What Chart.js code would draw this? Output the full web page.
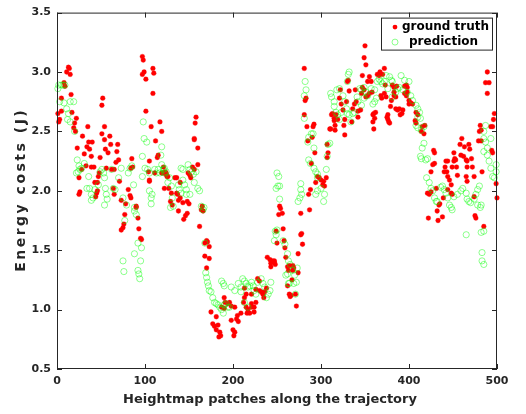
<!DOCTYPE html>
<html><head><meta charset="utf-8">
<script src="https://cdn.jsdelivr.net/npm/chart.js@4.4.0/dist/chart.umd.min.js"></script>
<style>html,body{margin:0;padding:0;background:#fff}</style>
</head><body>
<canvas id="c" width="526" height="414" style="width:526px;height:414px;display:block"></canvas>
<script>
// ---- data ----
const truthX = [1,2,3,5,5,8,9,11,13,14,15,16,17,19,20,21,22,23,25,25,26,28,29,31,33,34,35,36,37,39,39,40,42,43,44,45,46,46,47,48,49,51,51,52,54,54,55,56,58,60,61,62,64,65,65,67,68,69,70,71,73,73,75,76,77,78,81,83,84,84,85,86,90,90,92,93,95,96,97,97,98,99,101,101,104,105,105,105,107,109,109,110,111,112,114,115,117,119,119,121,121,122,123,124,126,
124,125,127,129,130,131,134,136,136,137,138,138,140,140,143,144,146,148,148,149,150,151,152,154,156,156,156,157,158,160,160,162,164,165,166,168,168,170,170,171,173,173,175,177,179,181,181,183,184,185,186,187,190,190,191,194,196,198,198,200,201,202,202,204,205,206,209,212,213,213,215,215,216,217,219,221,221,221,224,224,226,226,228,230,230,232,234,235,236,238,239,242,243,243,245,247,
247,248,249,250,252,253,254,256,257,258,259,260,262,262,263,264,264,265,266,267,268,268,269,271,272,274,274,277,277,278,279,281,281,282,283,284,285,286,287,288,289,290,291,292,293,294,296,298,300,302,303,304,306,307,307,308,310,311,312,313,315,315,316,316,317,319,321,322,323,325,326,327,327,329,330,331,332,335,336,338,339,340,342,342,345,346,347,347,349,349,350,351,351,353,353,355,355,357,358,359,359,360,360,361,362,364,366,367,368,369,370,372,372,374,375,377,
373,376,376,378,379,380,381,383,383,383,385,385,386,387,389,390,392,393,395,395,397,397,398,398,400,400,402,404,407,408,408,410,414,415,417,418,421,422,423,425,425,427,428,429,429,431,432,433,434,435,438,439,440,441,442,443,444,444,444,446,448,448,449,449,451,451,452,453,454,455,458,459,460,462,463,465,465,466,466,466,468,469,471,472,474,474,475,476,479,480,481,482,482,483,485,487,489,489,491,493,494,495,495,496,497,499,500];
const truthY = [2.65,2.58,2.6,2.67,2.78,2.91,2.88,3.0,3.04,3.03,2.98,2.81,2.66,2.53,2.57,2.5,2.61,2.36,2.11,1.97,1.99,2.18,2.46,2.31,2.21,2.37,2.54,2.41,2.35,2.29,2.2,2.41,2.2,2.07,1.95,1.98,2.07,2.0,2.12,2.15,2.28,2.48,2.72,2.78,2.54,2.43,2.35,2.19,2.32,2.46,2.39,2.18,2.02,2.18,1.97,2.24,2.33,2.39,2.26,2.08,1.92,1.67,1.69,1.72,1.8,1.89,2.01,1.96,2.19,1.94,2.27,2.2,1.87,1.86,1.77,1.68,1.6,1.59,3.13,2.98,3.1,3.0,2.94,2.67,2.16,2.25,2.09,2.08,2.54,2.82,3.03,2.99,2.15,2.42,2.28,2.3,2.58,2.5,2.15,2.15,2.2,2.02,2.16,2.14,2.12,
2.15,2.12,2.02,1.91,1.98,1.88,2.11,2.11,1.98,1.97,1.92,1.83,1.94,2.07,1.9,1.76,1.79,1.81,1.91,2.15,1.89,2.13,2.11,2.2,2.18,2.44,2.43,2.57,2.62,2.36,2.22,1.7,1.84,1.87,1.83,1.56,1.45,1.58,1.35,1.57,1.53,1.43,0.98,0.88,0.86,0.94,0.83,0.87,0.77,0.81,0.78,1.02,1.1,1.01,1.06,1.05,1.06,1.03,0.91,0.83,0.78,1.02,0.81,0.92,0.95,0.9,0.97,1.06,1.1,1.18,1.02,1.13,0.97,1.0,0.97,1.13,1.05,1.02,1.02,0.98,1.06,1.17,1.26,1.16,1.24,1.15,1.13,1.1,1.15,1.18,1.44,1.42,1.39,1.36,1.41,1.4,
1.41,1.38,1.66,1.56,1.8,1.87,1.85,1.81,1.68,1.58,1.52,1.44,1.36,1.2,1.33,1.37,1.13,1.11,1.12,1.25,1.37,1.33,1.35,1.13,1.03,1.31,1.47,1.63,1.81,1.64,1.55,2.64,3.03,2.76,2.78,2.54,2.42,1.97,1.84,2.01,2.23,2.45,2.54,2.56,2.32,2.07,2.12,2.11,2.09,2.05,2.08,2.04,2.11,2.39,2.28,2.32,2.52,2.52,2.64,2.65,2.59,2.61,2.55,2.51,2.64,2.6,2.78,2.85,2.73,2.68,2.55,2.6,2.47,2.75,2.92,2.93,2.84,2.58,2.69,2.73,2.85,2.75,2.62,2.67,2.68,2.82,2.87,2.97,2.85,3.12,3.22,3.06,2.79,2.8,2.92,2.82,2.96,2.92,2.83,2.64,2.58,2.65,2.52,2.61,2.66,2.98,2.97,3.0,2.8,2.78,2.98,3.03,2.82,2.79,2.62,2.58,
2.89,2.64,2.6,2.57,2.71,2.76,2.89,2.87,2.83,2.8,2.79,2.69,2.88,2.68,2.69,2.64,2.65,2.68,2.88,2.82,2.89,2.8,2.83,2.87,2.76,2.73,2.74,2.73,2.59,2.66,2.57,2.64,2.5,2.54,2.48,2.55,1.98,1.77,1.97,2.16,1.99,2.22,2.34,2.23,2.32,2.02,1.83,1.75,1.88,1.89,1.78,1.94,2.16,2.2,2.25,2.16,2.25,2.12,2.01,2.09,2.05,1.98,1.97,2.2,2.32,2.25,2.27,2.26,2.2,2.13,2.39,2.3,2.44,2.29,2.37,2.26,2.12,2.2,2.25,2.08,2.39,2.35,2.27,2.2,2.12,1.95,1.79,1.77,2.42,2.5,2.55,2.42,2.51,2.16,1.7,2.91,3.0,2.82,2.91,2.54,2.34,2.54,2.32,2.6,2.65,2.06,1.94];

const predX = [1,2,3,5,7,8,9,11,12,13,15,15,19,20,22,23,24,25,26,28,31,34,36,37,39,39,41,43,47,49,51,53,54,54,55,56,57,62,64,66,70,73,75,75,76,77,79,81,83,85,87,88,88,88,90,92,92,93,94,95,96,97,97,98,99,100,102,103,105,105,107,107,108,111,113,115,117,118,119,119,121,122,
122,124,126,128,129,130,131,132,138,139,141,141,143,143,145,147,147,149,151,151,153,155,156,158,160,162,164,166,167,168,169,170,171,172,173,175,177,179,181,183,185,187,187,189,189,190,190,192,194,196,198,202,206,209,209,211,213,213,215,217,217,219,221,223,224,226,228,232,234,236,238,240,242,243,
247,248,249,249,250,250,251,252,253,253,257,259,260,262,262,263,263,264,265,268,269,270,271,272,273,274,276,277,277,278,281,281,282,283,285,286,286,288,289,291,292,292,294,294,296,296,296,300,303,304,306,307,308,310,311,312,315,315,317,318,319,321,321,323,325,327,329,330,330,331,332,332,334,336,338,341,342,344,346,346,349,349,351,353,357,359,361,361,363,364,366,368,370,
372,374,376,378,380,381,381,385,387,389,391,393,395,398,400,402,404,408,408,410,410,410,412,413,413,414,414,415,417,417,419,420,421,423,425,427,429,431,432,436,438,440,442,444,446,448,449,451,455,459,461,465,465,466,468,470,474,476,478,478,480,481,482,482,483,483,485,485,485,485,485,487,487,489,489,491,493,493,495,497,499,499];
const predY = [2.86,2.89,2.75,2.89,2.89,2.74,2.89,2.69,2.6,2.65,2.75,2.58,2.75,2.5,2.15,2.26,2.16,2.21,2.18,2.19,2.23,2.02,2.12,2.02,1.92,1.97,1.94,2.01,2.05,2.16,2.18,2.15,2.11,1.88,2.02,1.97,1.93,2.18,2.02,2.01,2.11,2.19,1.94,1.41,1.32,1.75,1.88,2.15,2.19,2.21,2.05,1.86,1.83,1.47,1.8,1.56,1.33,1.3,1.26,1.41,1.52,2.29,2.12,2.58,2.44,2.19,2.41,2.18,2.15,2.0,1.94,1.89,1.97,2.18,2.15,2.18,2.15,2.3,2.22,2.37,2.18,2.15,
2.19,2.16,2.07,2.11,1.86,2.04,1.94,1.87,2.05,2.01,1.98,2.19,2.18,2.09,2.05,2.01,1.97,2.22,2.18,1.97,2.16,2.14,2.07,2.16,2.02,2.0,1.87,1.84,1.86,1.56,1.31,1.27,1.23,1.2,1.16,1.15,1.1,1.06,1.05,1.04,1.02,1.0,1.24,0.97,1.22,1.04,1.2,1.05,1.02,1.02,1.19,1.16,1.22,1.19,1.15,1.26,1.24,1.06,1.22,1.19,1.02,1.2,1.23,1.2,1.16,1.13,1.23,1.26,1.22,1.19,1.1,1.13,1.16,1.23,
1.58,1.66,1.63,2.02,2.15,1.67,2.04,2.12,2.04,1.93,1.58,1.55,1.29,1.3,1.47,1.41,1.22,1.22,1.38,1.33,1.22,1.29,1.13,1.23,1.35,1.91,1.94,2.06,2.01,1.97,2.8,2.61,2.92,2.85,2.41,2.45,2.26,2.23,2.48,2.48,2.36,2.19,2.16,1.97,2.14,2.11,2.0,2.02,1.91,1.97,2.18,2.29,2.39,2.4,2.82,2.79,2.75,2.71,2.66,2.85,2.64,2.6,2.86,2.66,2.8,2.75,2.69,2.92,2.65,2.98,3.0,2.64,2.58,2.65,2.66,2.79,2.75,2.86,2.85,2.72,2.87,2.78,2.83,2.8,2.86,2.73,2.75,2.85,2.78,2.92,2.94,2.92,2.9,
2.92,2.97,2.86,2.96,2.93,2.79,2.92,2.83,2.86,2.87,2.97,2.85,2.93,2.83,2.92,2.8,2.76,2.72,2.55,2.69,2.62,2.53,2.66,2.61,2.29,2.51,2.27,2.36,2.54,2.4,2.26,2.11,2.27,2.07,2.02,2.0,1.94,1.91,1.91,2.03,2.04,2.01,1.98,1.94,1.88,1.86,1.84,1.95,1.97,2.0,2.02,1.98,1.63,1.93,1.91,1.9,1.93,1.97,2.01,1.88,2.04,1.86,1.88,1.65,1.48,1.41,1.66,1.38,2.33,2.5,2.44,2.41,2.55,2.3,2.36,2.25,2.19,2.44,2.12,2.11,2.16,2.22];

const xTicks = [0,100,200,300,400,500];
const yTicks = [0.5,1,1.5,2,2.5,3,3.5];
const seriesNames = ['ground truth','prediction'];
const xTitle = 'Heightmap patches along the trajectory';
const yTitle = 'Energy costs (J)';

const AX = '#262626';
const toPts = (xs, ys) => xs.map((x, i) => ({x: x, y: ys[i]}));

const boxPlugin = {
  id: 'box',
  afterDraw(chart) {
    const {ctx, chartArea: a, scales} = chart;
    const xs = scales.x, ys = scales.y;
    ctx.save();
    ctx.strokeStyle = AX; ctx.lineWidth = 1;
    ctx.strokeRect(a.left + 0.5, a.top + 0.5, a.right - a.left - 1, a.bottom - a.top - 1);
    ctx.beginPath();
    const tl = 5;
    xTicks.forEach(v => {
      const p = Math.round(xs.getPixelForValue(v)) + 0.5;
      ctx.moveTo(p, a.bottom); ctx.lineTo(p, a.bottom - tl);
      ctx.moveTo(p, a.top); ctx.lineTo(p, a.top + tl);
    });
    yTicks.forEach(v => {
      const p = Math.round(ys.getPixelForValue(v)) + 0.5;
      ctx.moveTo(a.left, p); ctx.lineTo(a.left + tl, p);
      ctx.moveTo(a.right, p); ctx.lineTo(a.right - tl, p);
    });
    ctx.stroke();
    // axis titles
    ctx.fillStyle = AX;
    ctx.textAlign = 'center'; ctx.textBaseline = 'middle';
    ctx.font = 'bold 13px "DejaVu Sans"';
    ctx.fillText(xTitle, (a.left + a.right) / 2 - 7, 400);
    ctx.save();
    ctx.translate(21, (a.top + a.bottom) / 2 - 1);
    ctx.rotate(-Math.PI / 2);
    ctx.font = 'bold 14px "DejaVu Sans"';
    if ('letterSpacing' in ctx) ctx.letterSpacing = '2.5px';
    ctx.fillText(yTitle, 0, 0);
    ctx.restore();
    // legend
    const bx = a.right - 116, by = a.top + 5, bw = 112, bh = 33;
    ctx.fillStyle = '#fff';
    ctx.fillRect(bx, by, bw, bh);
    ctx.strokeStyle = AX; ctx.lineWidth = 1;
    ctx.strokeRect(bx + 0.5, by + 0.5, bw - 1, bh - 1);
    ctx.fillStyle = '#ff0000';
    ctx.beginPath(); ctx.arc(bx + 14, by + 9.5, 2.4, 0, Math.PI * 2); ctx.fill();
    ctx.strokeStyle = '#00ff00'; ctx.lineWidth = 0.45;
    ctx.beginPath(); ctx.arc(bx + 14, by + 24.5, 3, 0, Math.PI * 2); ctx.stroke();
    ctx.fillStyle = '#000';
    ctx.font = 'bold 12px "DejaVu Sans"';
    ctx.textBaseline = 'middle'; ctx.textAlign = 'left';
    ctx.fillText(seriesNames[0], bx + 21, by + 9.5);
    ctx.fillText(seriesNames[1], bx + 28, by + 24.5);
    ctx.restore();
  }
};

new Chart(document.getElementById('c'), {
  type: 'scatter',
  data: {
    datasets: [
      {label: seriesNames[0], data: toPts(truthX, truthY), order: 1, clip: false,
       pointRadius: 2.4, pointBackgroundColor: '#ff0000', pointBorderColor: '#ff0000', pointBorderWidth: 0.3, showLine: false},
      {label: seriesNames[1], data: toPts(predX, predY), order: 0, clip: false,
       pointRadius: 3.1, pointBackgroundColor: 'rgba(0,0,0,0)', pointBorderColor: '#00ff00', pointBorderWidth: 0.45, showLine: false}
    ]
  },
  options: {
    responsive: false, animation: false, devicePixelRatio: 1,
    layout: {padding: {left: 0, right: 29, top: 10, bottom: 0}},
    plugins: {legend: {display: false}, tooltip: {enabled: false}},
    scales: {
      x: {
        type: 'linear', min: 0, max: 500,
        afterFit: s => { s.height = 45; },
        afterBuildTicks: s => { s.ticks = xTicks.map(v => ({value: v})); },
        grid: {display: false, drawTicks: false}, border: {display: false},
        ticks: {padding: 6, color: AX, font: {family: 'DejaVu Sans', size: 11, weight: 'bold'}, maxRotation: 0},
        title: {display: false}
      },
      y: {
        min: 0.5, max: 3.5,
        afterFit: s => { s.width = 57; },
        afterBuildTicks: s => { s.ticks = yTicks.map(v => ({value: v})); },
        grid: {display: false, drawTicks: false}, border: {display: false},
        ticks: {padding: 6, color: AX, font: {family: 'DejaVu Sans', size: 11, weight: 'bold'}},
        title: {display: false}
      }
    }
  },
  plugins: [boxPlugin]
});
</script>
</body></html>
